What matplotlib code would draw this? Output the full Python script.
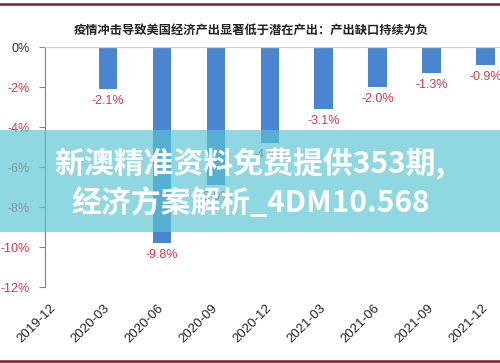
import numpy as np
import matplotlib
matplotlib.use('Agg')
import matplotlib.pyplot as plt
from matplotlib.lines import Line2D
from matplotlib.patches import Rectangle

plt.rcParams['font.family'] = ['Liberation Sans', 'Noto Sans CJK SC', 'DejaVu Sans']

# data
quarters = ['2019-12', '2020-03', '2020-06', '2020-09', '2020-12',
            '2021-03', '2021-06', '2021-09', '2021-12']
output_gap = [np.nan, -2.1, -9.8, -6.9, -4.8, -3.1, -2.0, -1.3, -0.9]
yticks = [0, -2, -4, -6, -8, -10, -12]
title = '疫情冲击导致美国经济产出显著低于潜在产出：产出缺口持续为负'
overlay_lines = ['新澳精准资料免费提供353期,', '经济方案解析_4DM10.568']

bar_color = '#4a86d0'
red = '#d63a44'

fig = plt.figure(figsize=(5.0, 3.63), dpi=100)
ax = fig.add_axes([0.09, 1 - 287 / 363, 0.91, 240 / 363])

x = np.arange(len(quarters))
vals = np.array(output_gap, dtype=float)
ax.bar(x, np.nan_to_num(vals), width=0.34, color=bar_color, zorder=2)

for xi, v in zip(x, vals):
  if np.isnan(v):
    continue
  ax.annotate('%.1f%%' % v, (xi, v), xytext=(0, -4), textcoords='offset points',
              ha='center', va='top', fontsize=9, color=red)

ax.set_ylim(-12, 0)
ax.set_xlim(-0.167, 8.27)
ax.set_yticks(yticks)
ax.set_yticklabels(['%d%%' % t for t in yticks], fontsize=9)
for lab, t in zip(ax.get_yticklabels(), yticks):
  lab.set_color('#333333' if t == 0 else red)
ax.tick_params(axis='y', length=4, width=0.8, color='#888888', pad=7)

ax.set_xticks(x)
ax.set_xticklabels(quarters, rotation=45, ha='right', va='center',
                   rotation_mode='anchor', fontsize=9.5, color='#222222')
ax.tick_params(axis='x', length=0, pad=14)

for side in ['right', 'bottom']:
  ax.spines[side].set_visible(False)
ax.spines['left'].set_color('#888888')
ax.spines['top'].set_color('#d0d0d0')
ax.spines['left'].set_linewidth(0.9)
ax.spines['top'].set_linewidth(0.9)

fig.text(0.502, 1 - 30 / 363, title, ha='center', va='center', fontsize=8.8,
         fontweight='bold', color='#222222', family=['Noto Sans CJK SC', 'DejaVu Sans'])

# dark red frame lines
fig.add_artist(Line2D([0, 1], [1 - 3.5 / 363] * 2, color='#7a1f2b', lw=1.8))
fig.add_artist(Line2D([0, 1], [1 - 360.5 / 363] * 2, color='#7a1f2b', lw=1.8))

# watermark band
fig.add_artist(Rectangle((0, 1 - 232 / 363), 1, 102 / 363, transform=fig.transFigure,
                         facecolor=(90 / 255, 196 / 255, 211 / 255), alpha=0.68,
                         edgecolor='none', zorder=5))
fig.text(0.5, 1 - 164 / 363, overlay_lines[0], ha='center', va='center', fontsize=21.5,
         fontweight='bold', color='white', zorder=6,
         family=['Noto Sans CJK SC', 'DejaVu Sans'])
fig.text(0.502, 1 - 203 / 363, overlay_lines[1], ha='center', va='center', fontsize=21.5,
         fontweight='bold', color='white', zorder=6,
         family=['Noto Sans CJK SC', 'DejaVu Sans'])

fig.savefig('out.png', dpi=100)
